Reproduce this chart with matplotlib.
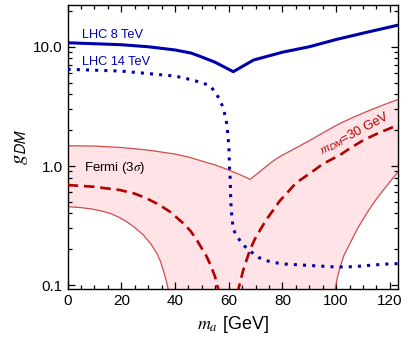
import numpy as np
import matplotlib
matplotlib.use("Agg")
import matplotlib.pyplot as plt
from matplotlib.ticker import MultipleLocator, LogLocator, NullFormatter, FixedLocator

plt.rcParams['font.family'] = ['Liberation Sans', 'DejaVu Sans']
plt.rcParams['mathtext.fontset'] = 'stix'

# LHC 8 TeV limit (solid)
lhc8_x = [0, 10, 20, 30, 40, 46, 50, 55, 61.7, 69.2, 80, 90, 100, 110, 123.2]
lhc8_y = [10.8, 10.6, 10.4, 10.0, 9.4, 8.85, 8.2, 7.4, 6.18, 7.73, 9.0, 10.0, 11.5, 13.0, 15.2]

# LHC 14 TeV projection (dotted)
lhc14_x = [0, 20, 30, 40, 46.6, 49.9, 52.8, 54.9, 56.5, 57.8, 58.6, 59.3, 59.6, 59.9,
           60.1, 60.2, 60.3, 60.5, 60.6, 60.7, 60.8, 61.0, 61.35, 61.7, 63.4, 65.4, 67.9,
           71.0, 74.2, 77.3, 80.6, 90.3, 100.3, 106.4, 113.9, 119.5, 123.2]
lhc14_y = [6.47, 6.25, 5.96, 5.68, 5.26, 4.99, 4.75, 4.2, 3.64, 3.14, 2.68, 2.25, 1.90, 1.60,
           1.36, 1.145, 0.957, 0.813, 0.693, 0.582, 0.492, 0.414, 0.348, 0.2946, 0.2506, 0.218,
           0.194, 0.1717, 0.1607, 0.1547, 0.1509, 0.1466, 0.1423, 0.1432, 0.148, 0.151, 0.152]

# Fermi (3 sigma) band
fermi_up_x = [0, 10, 20, 30, 40, 45, 50, 55, 60, 64, 68, 72.3, 76, 79, 83, 90, 96, 101.5, 107,
              112, 118, 123.2]
fermi_up_y = [1.48, 1.47, 1.43, 1.36, 1.26, 1.19, 1.10, 1.02, 0.926, 0.85, 0.774, 0.926, 1.08,
              1.20, 1.34, 1.63, 1.95, 2.28, 2.6, 2.9, 3.28, 3.62]
fermi_lo1_x = [0, 5, 9.5, 12.5, 15.8, 19, 22.0, 25, 28.2, 31, 33.2, 34.5, 35.6, 36.6, 37.5, 38.0]
fermi_lo1_y = [0.456, 0.448, 0.434, 0.42, 0.401, 0.373, 0.341, 0.305, 0.264, 0.222, 0.1855,
               0.16, 0.134, 0.112, 0.0925, 0.08]
fermi_lo2_x = [99.3, 99.6, 100.5, 101.5, 103, 105.2, 108, 111.4, 114.5, 117.6, 120.5, 123.2]
fermi_lo2_y = [0.08, 0.0925, 0.117, 0.143, 0.18, 0.225, 0.3, 0.401, 0.51, 0.629, 0.76, 0.90]

# m_DM = 30 GeV (dashed)
dm30_a_x = [0, 9.5, 19.5, 25, 29.4, 34, 38.1, 43.1, 45.8, 48.1, 51.8, 53.5, 54.9, 56.1, 56.5]
dm30_a_y = [0.693, 0.671, 0.629, 0.587, 0.536, 0.475, 0.414, 0.331, 0.285, 0.24, 0.174, 0.143,
            0.118, 0.0925, 0.085]
dm30_b_x = [63.3, 63.6, 64.5, 65.4, 67.9, 69.7, 71.7, 74, 76.6, 79, 81.6, 84, 86.6, 90.3, 95,
            101.5, 105.2, 110.2, 116, 123.2]
dm30_b_y = [0.085, 0.0925, 0.112, 0.134, 0.198, 0.243, 0.291, 0.355, 0.428, 0.51, 0.59, 0.68,
            0.763, 0.869, 1.04, 1.24, 1.41, 1.65, 1.9, 2.21]

blue = '#0000AA'
red_edge = '#CC4E4E'
red_dash = '#B30000'
pink = '#FFE3E6'

fig = plt.figure(figsize=(4.15, 3.48), dpi=100)
ax = fig.add_axes([0.163, 0.1687, 0.797, 0.817])

# band
poly_x = fermi_up_x + fermi_lo2_x[::-1] + fermi_lo1_x[::-1]
poly_y = fermi_up_y + fermi_lo2_y[::-1] + fermi_lo1_y[::-1]
ax.fill(poly_x, poly_y, color=pink, lw=0, zorder=1)
ax.plot(fermi_up_x, fermi_up_y, color=red_edge, lw=0.9, zorder=2)
ax.plot(fermi_lo1_x, fermi_lo1_y, color=red_edge, lw=0.9, zorder=2)
ax.plot(fermi_lo2_x, fermi_lo2_y, color=red_edge, lw=0.9, zorder=2)

ax.plot(dm30_a_x, dm30_a_y, color=red_dash, lw=1.9, linestyle=(0, (4, 2.2)), zorder=3)
ax.plot(dm30_b_x, dm30_b_y, color=red_dash, lw=1.9, linestyle=(0, (4, 2.2)), zorder=3)

ax.plot(lhc8_x, lhc8_y, color=blue, lw=2.2, zorder=4)
ax.plot(lhc14_x, lhc14_y, color=blue, lw=2.2, linestyle=(0, (1, 2)), zorder=4)

ax.set_yscale('log')
ax.set_xlim(0, 123.2)
ax.set_ylim(0.0926, 22.4)

ax.xaxis.set_major_locator(MultipleLocator(20))
ax.xaxis.set_minor_locator(MultipleLocator(5))
ax.yaxis.set_major_locator(FixedLocator([0.1, 1.0, 10.0]))
ax.yaxis.set_minor_locator(LogLocator(base=10, subs=np.arange(2, 10)))
ax.yaxis.set_minor_formatter(NullFormatter())
ax.set_yticklabels(['0.1', '1.0', '10.0'])

ax.tick_params(which='both', direction='in', top=True, right=True, labelsize=11, width=0.9)
ax.tick_params(which='major', length=5)
ax.tick_params(which='minor', length=2.8)
for s in ax.spines.values():
    s.set_linewidth(1.0)

ax.set_xlabel(r'$m_a$ [GeV]', fontsize=13, labelpad=4)
ax.set_ylabel(r'$g_\mathsf{DM}$', fontsize=15, labelpad=2)

ax.text(5.2, 12.5, 'LHC 8 TeV', color=blue, fontsize=9.2, va='center')
ax.text(5.2, 7.48, 'LHC 14 TeV', color=blue, fontsize=9.2, va='center')
ax.text(6.1, 0.97, r'Fermi (3$\sigma$)', color='black', fontsize=9.5, va='center')
ax.text(107.1, 1.89, r'$m_\mathsf{DM}$=30 GeV', color=red_dash, fontsize=9.4,
        ha='center', va='center', rotation=28)

fig.savefig('out.png', dpi=100)
